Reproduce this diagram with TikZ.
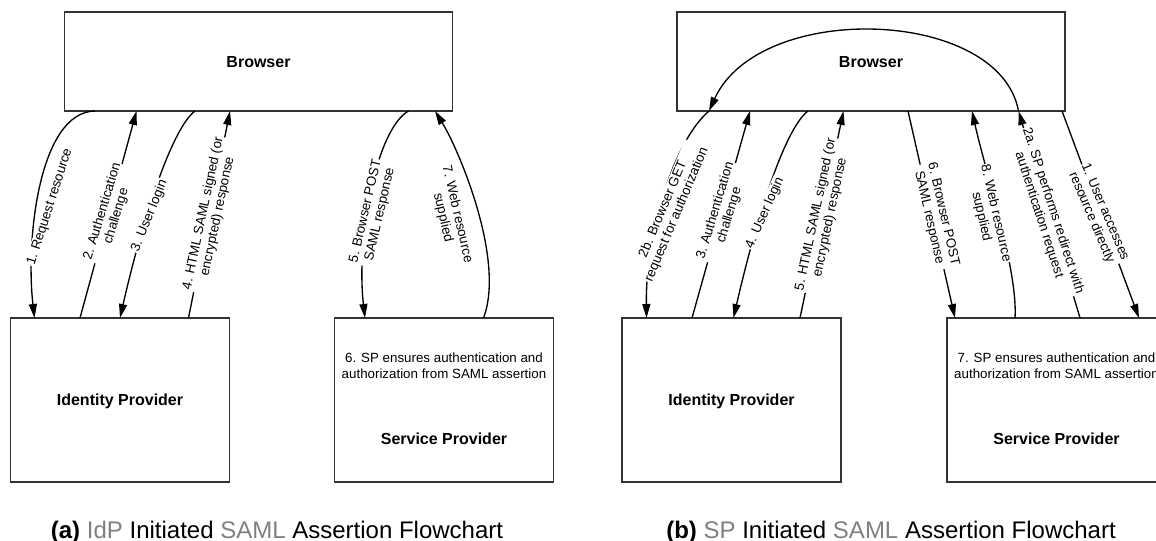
\documentclass[tikz,border=0pt]{standalone}
\usepackage{fontspec}
\setmainfont{Liberation Sans}
\usetikzlibrary{arrows.meta,calc}
\definecolor{capgray}{gray}{0.5}
\begin{document}
\begin{tikzpicture}[x=0.75pt,y=-0.75pt,
  box/.style={draw=black!80, line width=0.9pt, inner sep=0pt, outer sep=0pt},
  boldtxt/.style={font=\fontsize{12}{14}\selectfont\bfseries, inner sep=0pt},
  smalltxt/.style={font=\fontsize{10}{12}\selectfont, align=center, inner sep=0pt},
  conn/.style={line width=1pt, -{Triangle[length=10.5pt,width=6pt]}},
  lab/.style={fill=white, inner sep=0.8pt, align=center, font=\fontsize{10}{11}\selectfont},
  capt/.style={font=\fontsize{18}{20}\selectfont, inner sep=0pt}]
\useasboundingbox (0,0) rectangle (1156,541);
\clip (0,0) rectangle (1156,541);

% ---------- (a) IdP initiated ----------
\node[box, minimum width=291pt, minimum height=74.25pt] (bL) at (258.5,61.5) {};
\node[boldtxt] (bLt) at (258.5,62) {Browser};
\node[box, minimum width=164.25pt, minimum height=123pt] (iL) at (120,400) {};
\node[boldtxt] (iLt) at (120,401) {Identity Provider};
\node[box, minimum width=164.25pt, minimum height=123pt] (sL) at (444,400) {};
\node[smalltxt] (sLa) at (444,366) {6. SP ensures authentication and\\authorization from SAML assertion};
\node[boldtxt] (sLt) at (444,439) {Service Provider};

\coordinate (a1s) at ($(bL.south west)+(30.5,0)$);
\coordinate (a1e) at ($(iL.north west)+(24,0)$);
\coordinate (a2s) at ($(iL.north west)+(69.5,0)$);
\coordinate (a2e) at ($(bL.south west)+(72,0)$);
\coordinate (a3s) at ($(bL.south west)+(130.5,0)$);
\coordinate (a3e) at ($(iL.north west)+(109.5,0)$);
\coordinate (a4s) at ($(iL.north west)+(178,0)$);
\coordinate (a4e) at ($(bL.south west)+(165.5,0)$);
\coordinate (a5s) at ($(bL.south west)+(344,0)$);
\coordinate (a5e) at ($(sL.north west)+(30.5,0)$);
\coordinate (a7s) at ($(sL.north west)+(149,0)$);
\coordinate (a7e) at ($(bL.south west)+(370.5,0)$);

\draw[conn] (a1s) .. controls +(-56,1) and +(-9,-78) .. (a1e);
\draw[conn] (a2s) -- (a2e);
\draw[conn] (a3s) .. controls +(-25,19) and +(20,-88) .. (a3e);
\draw[conn] (a4s) -- (a4e);
\draw[conn] (a5s) .. controls +(-33,19) and +(-9,-78) .. (a5e);
\draw[conn] (a7s) .. controls +(22,-58) and +(24,39) .. (a7e);

\node[lab, rotate=72] (la1) at (50,207) {1. Request resource};
\node[lab, rotate=73] (la2) at (109.5,214) {2. Authentication\\challenge};
\node[lab, rotate=68] (la3) at (149.5,216) {3. User login};
\node[lab, rotate=78] (la4) at (210.5,215) {4. HTML SAML signed (or\\encrypted) response};
\node[lab, rotate=77] (la5) at (373,213) {5. Browser POST\\SAML response};
\node[lab, rotate=-77] (la7) at (450,216) {7. Web resource\\supplied};

% ---------- (b) SP initiated ----------
\node[box, minimum width=291pt, minimum height=74.25pt] (bR) at (871,61.5) {};
\node[boldtxt] (bRt) at (871,62) {Browser};
\node[box, minimum width=164.25pt, minimum height=123pt] (iR) at (731.5,400) {};
\node[boldtxt] (iRt) at (731.5,401) {Identity Provider};
\node[box, minimum width=164.25pt, minimum height=123pt] (sR) at (1056.5,400) {};
\node[smalltxt] (sRa) at (1056.5,366) {7. SP ensures authentication and\\authorization from SAML assertion};
\node[boldtxt] (sRt) at (1056.5,439) {Service Provider};

\coordinate (b2a) at ($(bR.south west)+(341.5,0)$);
\coordinate (b2b) at ($(bR.south west)+(32,0)$);
\coordinate (b2be) at ($(iR.north west)+(24.5,0)$);
\coordinate (b2as) at ($(sR.north west)+(133,0)$);
\coordinate (b3s) at ($(iR.north west)+(70,0)$);
\coordinate (b3e) at ($(bR.south west)+(73,0)$);
\coordinate (b4s) at ($(bR.south west)+(131,0)$);
\coordinate (b4e) at ($(iR.north west)+(111.5,0)$);
\coordinate (b5s) at ($(iR.north west)+(178,0)$);
\coordinate (b5e) at ($(bR.south west)+(166.5,0)$);
\coordinate (b6s) at ($(bR.south west)+(231,0)$);
\coordinate (b6e) at ($(sR.north west)+(8,0)$);
\coordinate (b8s) at ($(sR.north west)+(68,0)$);
\coordinate (b8e) at ($(bR.south west)+(295,0)$);
\coordinate (b1s) at ($(bR.south west)+(385,0)$);
\coordinate (b1e) at ($(sR.north west)+(192,0)$);

\draw[conn] (b1s) -- (b1e);
\draw[conn] (b2as) -- (b2a);
\draw[conn] (b2a) .. controls +(-19,-103) and +(51,-111) .. (b2b);
\draw[conn] (b2b) .. controls +(-34,29) and +(-1,-88) .. (b2be);
\draw[conn] (b3s) -- (b3e);
\draw[conn] (b4s) .. controls +(-25,19) and +(20,-88) .. (b4e);
\draw[conn] (b5s) -- (b5e);
\draw[conn] (b6s) -- (b6e);
\draw[conn] (b8s) .. controls +(3,-48) and +(13,59) .. (b8e);

\node[lab, rotate=67] (lb2b) at (670,212) {2b. Browser GET\\request for authorization};
\node[lab, rotate=73] (lb3) at (722.5,213) {3. Authentication\\challenge};
\node[lab, rotate=66] (lb4) at (765,213) {4. User login};
\node[lab, rotate=78] (lb5) at (823,216) {5. HTML SAML signed (or\\encrypted) response};
\node[lab, rotate=-77] (lb6) at (936,216) {6. Browser POST\\SAML response};
\node[lab, rotate=-77] (lb8) at (988.5,215) {8. Web resource\\supplied};
\node[lab, rotate=-72] (lb2a) at (1046,213) {2a. SP performs redirect with\\authentication request};
\node[lab, rotate=-67] (lb1) at (1098,215) {1. User accesses\\resource directly};

% ---------- captions ----------
\node[capt, anchor=base] (capA) at (277,538) {\textbf{(a)} \textcolor{capgray}{IdP} Initiated \textcolor{capgray}{SAML} Assertion Flowchart};
\node[capt, anchor=base] (capB) at (891,538) {\textbf{(b)} \textcolor{capgray}{SP} Initiated \textcolor{capgray}{SAML} Assertion Flowchart};
\end{tikzpicture}
\end{document}
